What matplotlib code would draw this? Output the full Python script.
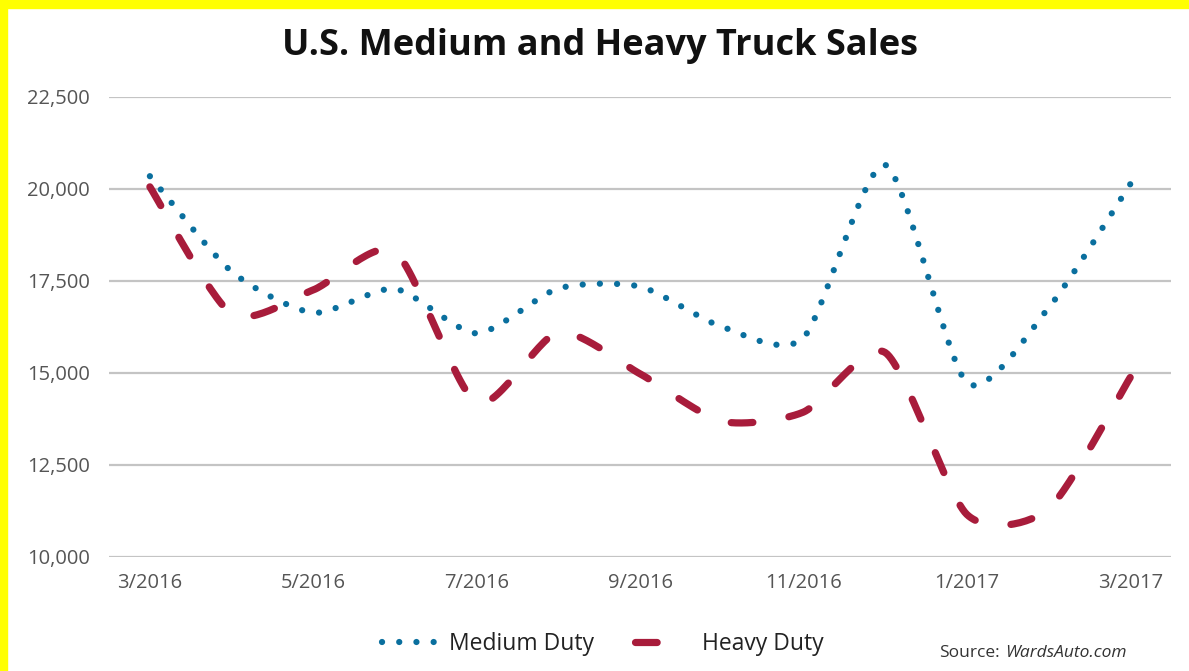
import matplotlib.pyplot as plt
import numpy as np
from matplotlib.patches import Rectangle

# ------------------------------------------------------------------ #
# data (monthly unit sales)
# ------------------------------------------------------------------ #
months = ["3/2016", "4/2016", "5/2016", "6/2016", "7/2016", "8/2016", "9/2016",
          "10/2016", "11/2016", "12/2016", "1/2017", "2/2017", "3/2017"]
medium_duty = [20340, 17750, 16630, 17280, 16070, 17290, 17340,
               16250, 15950, 20650, 14730, 16760, 20120]
heavy_duty = [20050, 16600, 17250, 18290, 14180, 16100, 14970,
              13680, 13930, 15550, 11150, 11300, 14870]
y_ticks = [10000, 12500, 15000, 17500, 20000, 22500]

MED_COLOR = "#0a6f9e"
HEAVY_COLOR = "#a81c3b"
FONT = ["Open Sans", "DejaVu Sans"]
DPI = 100


def smooth(xs, ys, k=0.12, n=30):
    """Excel-like smoothed line: cubic Bezier pieces through the points."""
    xs = np.asarray(xs, float)
    ys = np.asarray(ys, float)
    px = np.concatenate([[xs[0]], xs, [xs[-1]]])
    py = np.concatenate([[ys[0]], ys, [ys[-1]]])
    out_x, out_y = [], []
    t = np.linspace(0, 1, n, endpoint=False)
    for i in range(1, len(px) - 2):
        for p, out in ((px, out_x), (py, out_y)):
            p0, p1, p2, p3 = p[i - 1], p[i], p[i + 1], p[i + 2]
            c1 = p1 + (p2 - p0) * k
            c2 = p2 - (p3 - p1) * k
            out.extend((1 - t) ** 3 * p1 + 3 * (1 - t) ** 2 * t * c1
                       + 3 * (1 - t) * t ** 2 * c2 + t ** 3 * p2)
    out_x.append(xs[-1])
    out_y.append(ys[-1])
    return np.array(out_x), np.array(out_y)


def fitted_dashes(ax, cx, cy, lw, on, period):
    """stretch the gap a bit so the dash pattern ends on a dash"""
    pts = ax.transData.transform(np.column_stack([cx, cy])) * 72 / DPI
    length = np.hypot(*np.diff(pts, axis=0).T).sum() / lw
    n = max(1, round((length - on) / period))
    return (0, (on, (length - on) / n - on))


plt.rcParams["font.family"] = FONT

fig = plt.figure(figsize=(11.89, 6.71), dpi=DPI)
ax = fig.add_axes([0.0917, 0.1703, 0.8932, 0.6856])

x = np.arange(len(months))
ax.set_xlim(-0.5, len(months) - 0.5)
ax.set_ylim(y_ticks[0], y_ticks[-1])

mx, my = smooth(x, medium_duty)
hx, hy = smooth(x, heavy_duty)

ax.plot(mx, my, color=MED_COLOR, lw=4.5,
        linestyle=fitted_dashes(ax, mx, my, 4.5, 0.01, 2.75),
        dash_capstyle="round", label="Medium Duty", zorder=3)
ax.plot(hx, hy, color=HEAVY_COLOR, lw=5.2,
        linestyle=fitted_dashes(ax, hx, hy, 5.2, 3.0, 8.2),
        dash_capstyle="round", label="Heavy Duty", zorder=3)

ax.set_yticks(y_ticks)
ax.set_yticklabels([f"{v:,}" for v in y_ticks])
ax.set_xticks(x[::2])
ax.set_xticklabels(months[::2])

ax.grid(axis="y", color="#c4c4c4", lw=1.6)
ax.set_axisbelow(True)
for s in ax.spines.values():
    s.set_visible(False)
ax.tick_params(length=0, labelsize=14.5, labelcolor="#555555")
ax.tick_params(axis="y", pad=14)
ax.tick_params(axis="x", pad=12)

fig.text(0.505, 0.932, "U.S. Medium and Heavy Truck Sales", ha="center",
         va="center", fontsize=26, fontweight="bold", color="#111111")

leg = ax.legend(loc="center", bbox_to_anchor=(0.465, -0.19), ncol=2,
                frameon=False, fontsize=16.5, handlelength=2.5,
                columnspacing=1.8, handletextpad=0.4)
for t in leg.get_texts():
    t.set_color("#222222")

fig.text(0.841, 0.027, "Source:", ha="right", va="center", fontsize=12.5,
         color="#333333")
fig.text(0.845, 0.027, "WardsAuto.com", ha="left", va="center", fontsize=12.5,
         color="#333333", style="italic")

# yellow frame on top and left edges
fig.patches.append(Rectangle((0, 0.988), 1, 0.012, transform=fig.transFigure,
                             color="#ffff00", zorder=10))
fig.patches.append(Rectangle((0, 0), 0.006, 1, transform=fig.transFigure,
                             color="#ffff00", zorder=10))

fig.savefig("out.png", dpi=DPI)
plt.close(fig)
